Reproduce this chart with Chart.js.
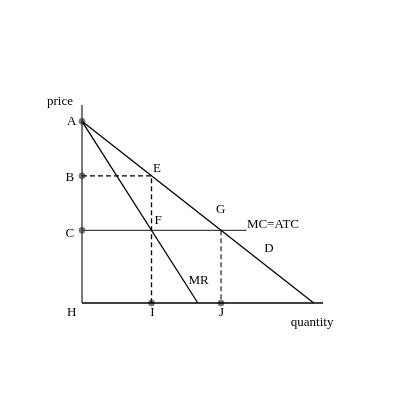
<!DOCTYPE html>
<html><head><meta charset="utf-8">
<script src="https://cdn.jsdelivr.net/npm/chart.js@4"></script>
<style>html,body{margin:0;padding:0;background:#fff}#w{width:400px;height:400px}</style>
</head><body><div id="w"><canvas id="c"></canvas></div>
<script>
// Quantities and prices (economic units)
const demandLine = [{x:0,y:10},{x:10,y:0}];
const mrLine = [{x:0,y:10},{x:5,y:0}];
const mcLine = [{x:0,y:4},{x:7.1,y:4}];
const monopolyDashed = [{x:0,y:7},{x:3,y:7},{x:3,y:0}];
const competitiveDashed = [{x:6,y:4},{x:6,y:0}];
const yAxisLine = [{x:0,y:0},{x:0,y:10.9}];
const xAxisLine = [{x:0,y:0},{x:10.4,y:0}];
const keyPoints = [{x:0,y:10},{x:0,y:7},{x:0,y:4},{x:3,y:0},{x:6,y:0}];
const labelTexts = ["price","A","B","C","H","I","J","E","F","G","MC=ATC","D","MR","quantity"];
const labelX = [-0.95,-0.45,-0.52,-0.52,-0.45,3.04,6.02,3.24,3.28,5.98,8.24,8.07,5.03,9.93];
const labelY = [11.08,9.99,6.88,3.80,-0.50,-0.50,-0.55,7.40,4.51,5.12,4.29,2.97,1.21,-1.10];

const lineDs = (data, color, dash) => ({
  data, showLine:true, borderColor:color, borderWidth:1.3, pointRadius:0,
  borderDash: dash || [], fill:false, tension:0, clip:false
});

const labelPlugin = {
  id:'labels',
  afterDatasetsDraw(chart){
    const {ctx, scales:{x,y}} = chart;
    ctx.save();
    ctx.font = '13px "Liberation Serif", "Times New Roman", serif';
    ctx.fillStyle = '#000';
    ctx.textAlign = 'center';
    ctx.textBaseline = 'middle';
    labelTexts.forEach((t,i)=>{
      ctx.fillText(t, x.getPixelForValue(labelX[i]), y.getPixelForValue(labelY[i]));
    });
    ctx.restore();
  }
};

new Chart(document.getElementById('c'), {
  type:'scatter',
  data:{datasets:[
    lineDs(yAxisLine,'#333'),
    lineDs(xAxisLine,'#000'),
    lineDs(demandLine,'#000'),
    lineDs(mrLine,'#000'),
    lineDs(mcLine,'#444'),
    lineDs(monopolyDashed,'#000',[5,3]),
    lineDs(competitiveDashed,'#333',[5,3]),
    {data:keyPoints, pointRadius:3, pointBackgroundColor:'#777', pointBorderColor:'#777', showLine:false, clip:false}
  ]},
  options:{
    responsive:true, maintainAspectRatio:false, animation:false,
    layout:{padding:{left:82,right:77,top:105,bottom:97}},
    plugins:{legend:{display:false}, tooltip:{enabled:false}},
    scales:{
      x:{type:'linear', min:0, max:10.4, display:false},
      y:{type:'linear', min:0, max:10.9, display:false}
    }
  },
  plugins:[labelPlugin]
});
</script></body></html>
